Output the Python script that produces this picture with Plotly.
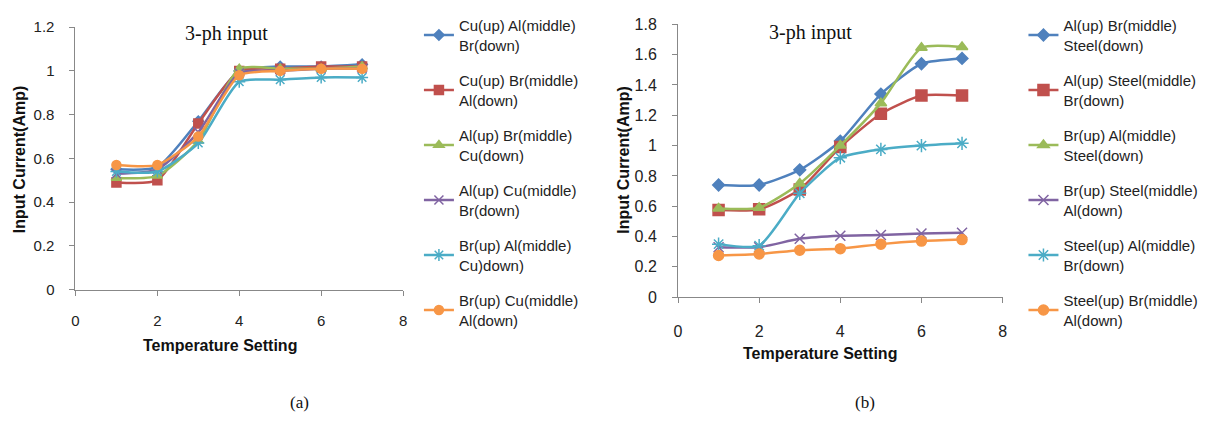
import plotly.graph_objects as go

W, H = 1225, 423

x_vals = [1, 2, 3, 4, 5, 6, 7]

# Chart (a)
names_a = ["Cu(up) Al(middle)<br>Br(down)", "Cu(up) Br(middle)<br>Al(down)",
           "Al(up) Br(middle)<br>Cu(down)", "Al(up) Cu(middle)<br>Br(down)",
           "Br(up) Al(middle)<br>Cu)down)", "Br(up) Cu(middle)<br>Al(down)"]
cu_al_br = [0.55, 0.56, 0.77, 1.00, 1.02, 1.02, 1.03]
cu_br_al = [0.49, 0.50, 0.76, 1.00, 1.01, 1.02, 1.02]
al_br_cu = [0.51, 0.52, 0.68, 1.01, 1.01, 1.01, 1.02]
al_cu_br = [0.53, 0.55, 0.72, 0.99, 1.00, 1.01, 1.01]
br_al_cu = [0.54, 0.54, 0.67, 0.95, 0.96, 0.97, 0.97]
br_cu_al = [0.57, 0.57, 0.70, 0.98, 1.00, 1.01, 1.01]
series_a = [cu_al_br, cu_br_al, al_br_cu, al_cu_br, br_al_cu, br_cu_al]

# Chart (b)
names_b = ["Al(up) Br(middle)<br>Steel(down)", "Al(up) Steel(middle)<br>Br(down)",
           "Br(up) Al(middle)<br>Steel(down)", "Br(up) Steel(middle)<br>Al(down)",
           "Steel(up) Al(middle)<br>Br(down)", "Steel(up) Br(middle)<br>Al(down)"]
al_br_st = [0.74, 0.74, 0.84, 1.03, 1.34, 1.54, 1.575]
al_st_br = [0.575, 0.58, 0.71, 0.99, 1.21, 1.33, 1.33]
br_al_st = [0.585, 0.59, 0.75, 1.00, 1.28, 1.645, 1.65]
br_st_al = [0.33, 0.33, 0.385, 0.405, 0.41, 0.42, 0.425]
st_al_br = [0.35, 0.34, 0.685, 0.92, 0.975, 1.00, 1.015]
st_br_al = [0.275, 0.285, 0.31, 0.32, 0.35, 0.37, 0.38]
series_b = [al_br_st, al_st_br, br_al_st, br_st_al, st_al_br, st_br_al]

colors = ["#4F81BD", "#C0504D", "#9BBB59", "#8064A2", "#4BACC6", "#F79646"]
symbols = ["diamond", "square", "triangle-up", "x-thin-open", "asterisk-open", "circle"]
sizes_a = [8, 9, 9, 9, 10, 9]
sizes_b = [9, 11, 10, 10, 11, 10]

def px_x(p):
    return p / W

def px_y(p):
    return 1 - p / H

fig = go.Figure()

for i, (nm, ys) in enumerate(zip(names_a, series_a)):
    fig.add_trace(go.Scatter(
        x=x_vals, y=ys, name=nm, mode="lines+markers",
        line=dict(color=colors[i], width=2.5, shape="spline", smoothing=0.6),
        marker=dict(symbol=symbols[i], size=sizes_a[i], color=colors[i],
                    line=dict(color=colors[i], width=1.5)),
        xaxis="x", yaxis="y", legend="legend", legendgroup="a%d" % i))

for i, (nm, ys) in enumerate(zip(names_b, series_b)):
    fig.add_trace(go.Scatter(
        x=x_vals, y=ys, name=nm, mode="lines+markers",
        line=dict(color=colors[i], width=2.5, shape="spline", smoothing=0.6),
        marker=dict(symbol=symbols[i], size=sizes_b[i], color=colors[i],
                    line=dict(color=colors[i], width=1.5)),
        xaxis="x2", yaxis="y2", legend="legend2", legendgroup="b%d" % i))

sans = "Liberation Sans Narrow, Liberation Sans, Arial"
def axis_common(size):
    return dict(showgrid=False, zeroline=False, showline=True, linecolor="#888888",
                linewidth=1, ticks="outside", ticklen=5, tickcolor="#888888",
                tickfont=dict(family=sans, size=size, color="#222"))

legend_font = dict(family=sans, size=15, color="#222")

fig.update_layout(
    width=W, height=H, margin=dict(l=0, r=0, t=0, b=0),
    paper_bgcolor="white", plot_bgcolor="white", showlegend=True,
    xaxis=dict(domain=[px_x(72), px_x(402)], range=[0, 8], dtick=2, anchor="y",
               ticklabelstandoff=12, **axis_common(15)),
    yaxis=dict(domain=[px_y(293), px_y(19)], range=[0, 1.2], dtick=0.2, anchor="x",
               ticklabelstandoff=12, **axis_common(15)),
    xaxis2=dict(domain=[px_x(679), px_x(1006)], range=[0, 8], dtick=2, anchor="y2",
                ticklabelstandoff=15, **axis_common(16)),
    yaxis2=dict(domain=[px_y(301), px_y(16)], range=[0, 1.8], dtick=0.2, anchor="x2",
                ticklabelstandoff=12, **axis_common(16)),
    legend=dict(x=px_x(418), y=px_y(0), xanchor="left", yanchor="top",
                font=legend_font, itemwidth=30, tracegroupgap=13,
                bgcolor="rgba(0,0,0,0)"),
    legend2=dict(x=px_x(1027), y=px_y(0), xanchor="left", yanchor="top",
                 font=legend_font, itemwidth=30, tracegroupgap=13,
                 bgcolor="rgba(0,0,0,0)"),
)

title_font = dict(family="Liberation Serif, Times New Roman, serif", size=20, color="#111")
label_font = dict(family=sans, size=16, color="#111")
cap_font = dict(family="Liberation Serif, Times New Roman, serif", size=17, color="#111")
annos = [
    dict(text="3-ph input", x=px_x(224), y=px_y(26), font=title_font),
    dict(text="3-ph input", x=px_x(812), y=px_y(25), font=title_font),
    dict(text="<b>Temperature Setting</b>", x=px_x(218), y=px_y(351), font=label_font),
    dict(text="<b>Temperature Setting</b>", x=px_x(822), y=px_y(360), font=label_font),
    dict(text="<b>Input Current(Amp)</b>", x=px_x(15), y=px_y(157), font=label_font, textangle=-90),
    dict(text="<b>Input Current(Amp)</b>", x=px_x(624), y=px_y(157), font=label_font, textangle=-90),
    dict(text="(a)", x=px_x(298), y=px_y(411), font=cap_font),
    dict(text="(b)", x=px_x(867), y=px_y(411), font=cap_font),
]
for a in annos:
    a.update(xref="paper", yref="paper", showarrow=False, xanchor="center", yanchor="middle")
fig.update_layout(annotations=annos)

fig.write_html("out.html")
